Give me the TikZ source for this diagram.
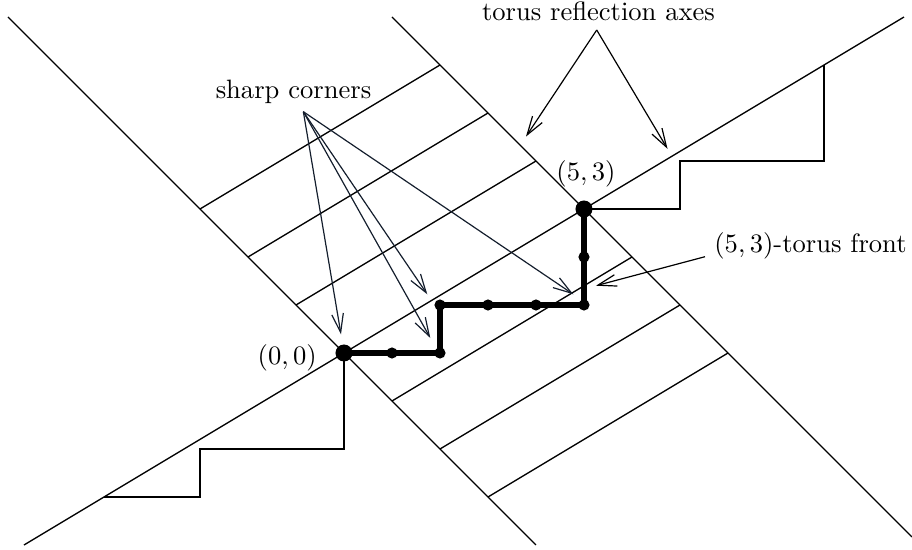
\documentclass[tikz,border=0pt]{standalone}
\usetikzlibrary{arrows.meta}
\definecolor{arrowcol}{RGB}{20,30,45}
\begin{document}
\begin{tikzpicture}[x=0.635cm,y=0.635cm,
  thinline/.style={line width=0.5pt},
  pathline/.style={line width=2.1pt},
  bigdot/.style={circle,fill,inner sep=0pt,minimum size=6.4pt},
  smalldot/.style={circle,fill,inner sep=0pt,minimum size=4.2pt},
  lbl/.style={anchor=base,inner sep=0pt},
  pointer/.style={line width=0.45pt,-{Straight Barb[length=7pt,width=4.4pt]}},
]
\useasboundingbox (-7.1667,-4.1042) rectangle (11.8333,7.3542);

% reflection axes
\draw[thinline] (-7,7) -- (4,-4);
\draw[thinline] (1,7) -- (11.8333,-3.8333);
% main line of slope 3/5
\draw[thinline] (-20/3,-4) -- (35/3,7);
% parallel segments between the axes
\foreach \k in {1,2,3}{
  \draw[thinline] (-\k,\k) -- (5-\k,3+\k);
  \draw[thinline] (\k,-\k) -- (5+\k,3-\k);
}
% staircases
\draw[thinline] (5,3) -- (7,3) -- (7,4) -- (10,4) -- (10,6);
\draw[thinline] (0,0) -- (0,-2) -- (-3,-2) -- (-3,-3) -- (-5,-3);

% lattice points of the front
\coordinate (p0) at (0,0);
\coordinate (p1) at (1,0);
\coordinate (p2) at (2,0);
\coordinate (p3) at (2,1);
\coordinate (p4) at (3,1);
\coordinate (p5) at (4,1);
\coordinate (p6) at (5,1);
\coordinate (p7) at (5,2);
\coordinate (p8) at (5,3);

\draw[pathline] (p0) -- (p2) -- (p3) -- (p6) -- (p8);
\foreach \p in {p1,p2,p3,p4,p5,p6,p7}{
  \node[smalldot] at (\p) {};
}
\node[bigdot] (origin) at (p0) {};
\node[bigdot] (endpt) at (p8) {};

% labels
\node[lbl] (lorigin) at (-1.183,-0.235) {$(0,0)$};
\node[lbl] (lend) at (5.042,3.604) {$(5,3)$};
\node[lbl] (sc) at (-1.052,5.292) {sharp corners};
\node[lbl] (tra) at (5.302,6.923) {torus reflection axes};
\node[lbl] (tf) at (9.719,2.104) {$(5,3)$-torus front};

% arrow ends
\coordinate (scfrom) at (-0.847,5.027);
\coordinate (sc1) at (-0.0625,0.390);
\coordinate (sc2) at (1.798,0.3125);
\coordinate (sc3) at (1.735,1.223);
\coordinate (sc4) at (4.777,1.223);
\coordinate (trafrom) at (5.265,6.729);
\coordinate (tra1) at (3.792,4.510);
\coordinate (tra2) at (6.740,4.254);
\coordinate (tffrom) at (7.521,2.006);
\coordinate (tfto) at (5.25,1.402);

\foreach \t in {sc1,sc2,sc3,sc4}{
  \draw[pointer,arrowcol] (scfrom) -- (\t);
}
\draw[pointer] (trafrom) -- (tra1);
\draw[pointer] (trafrom) -- (tra2);
\draw[pointer] (tffrom) -- (tfto);
\end{tikzpicture}
\end{document}
